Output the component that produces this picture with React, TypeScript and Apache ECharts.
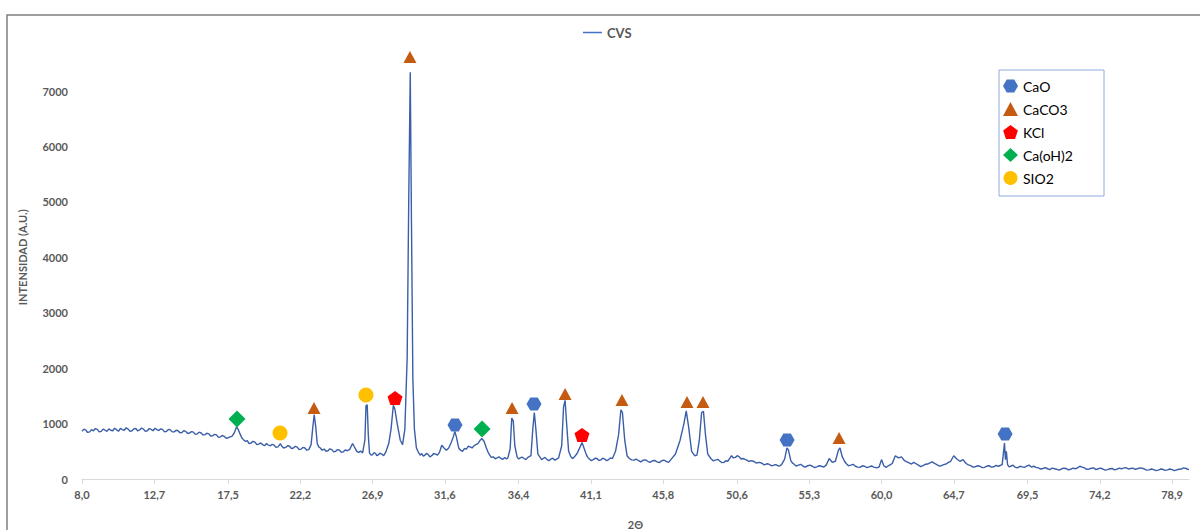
import React, { useEffect, useRef } from "react";
import * as echarts from "echarts";

// 2θ / intensity trace
const cvsTrace: [number, number][] = [
  [8.0, 860], [8.12, 900], [8.25, 880], [8.37, 840], [8.5, 850], [8.62, 890], [8.75, 870], [8.87, 910], [9.0, 895], [9.12, 850], [9.25, 860], [9.37, 900], [9.5, 880], [9.62, 860], [9.75, 905],
  [9.87, 880], [10.0, 870], [10.12, 915], [10.25, 890], [10.37, 860], [10.5, 915], [10.62, 890], [10.75, 880], [10.87, 925], [11.0, 900], [11.12, 860], [11.25, 870], [11.37, 905], [11.5, 910], [11.62, 870], [11.75, 885],
  [11.87, 920], [12.0, 900], [12.12, 860], [12.25, 870], [12.37, 910], [12.5, 895], [12.62, 870], [12.75, 915], [12.87, 890], [13.0, 875], [13.12, 905], [13.25, 890], [13.37, 850], [13.5, 860], [13.62, 895], [13.75, 885],
  [13.87, 850], [14.0, 850], [14.12, 880], [14.25, 870], [14.37, 835], [14.5, 840], [14.62, 870], [14.75, 860], [14.87, 820], [15.0, 830], [15.12, 855], [15.25, 845], [15.37, 805], [15.5, 815], [15.62, 845], [15.75, 830],
  [15.87, 795], [16.0, 800], [16.12, 825], [16.25, 815], [16.37, 775], [16.5, 780], [16.62, 805], [16.75, 795], [16.87, 750], [17.0, 760], [17.12, 785], [17.25, 770], [17.37, 735], [17.5, 740], [17.62, 760], [17.75, 770],
  [17.9, 830], [18.05, 940], [18.15, 900], [18.3, 800], [18.4, 740], [18.5, 710], [18.62, 680], [18.75, 690], [18.87, 640], [19.0, 650], [19.12, 680], [19.25, 665], [19.37, 620],
  [19.5, 630], [19.62, 650], [19.75, 620], [19.87, 600], [20.0, 640], [20.12, 610], [20.25, 600], [20.37, 625], [20.5, 610], [20.62, 570], [20.75, 580], [20.9, 640], [21.0, 590],
  [21.12, 560], [21.25, 570], [21.37, 600], [21.5, 590], [21.62, 550], [21.75, 560], [21.87, 590], [22.0, 575], [22.12, 530], [22.25, 540], [22.37, 570], [22.5, 560], [22.62, 520], [22.75, 530], [22.9, 620],
  [23.0, 900], [23.1, 1160], [23.2, 950], [23.3, 640], [23.4, 580], [23.5, 560], [23.62, 520], [23.75, 540], [23.87, 500], [24.0, 510], [24.12, 545], [24.25, 530], [24.37, 490],
  [24.5, 500], [24.62, 530], [24.75, 520], [24.87, 480], [25.0, 490], [25.12, 525], [25.25, 510], [25.4, 530], [25.6, 640], [25.75, 560], [25.87, 500], [26.0, 480], [26.12, 505],
  [26.25, 470], [26.4, 700], [26.47, 1320], [26.55, 1340], [26.62, 800], [26.7, 470], [26.8, 430], [26.9, 440], [27.0, 475], [27.1, 460], [27.17, 420],
  [27.25, 430], [27.37, 465], [27.5, 450], [27.62, 420], [27.75, 480], [27.95, 640], [28.1, 900], [28.25, 1330], [28.35, 1260], [28.5, 1000],
  [28.6, 850], [28.7, 700], [28.85, 620], [29.0, 900], [29.15, 2200], [29.25, 5000], [29.35, 7340], [29.43, 4600],
  [29.52, 1800], [29.62, 900], [29.75, 560], [29.9, 470], [30.0, 430], [30.1, 460], [30.2, 410], [30.3, 430], [30.4, 460], [30.5, 450], [30.62, 400], [30.75, 420],
  [30.87, 460], [31.0, 450], [31.12, 430], [31.25, 480], [31.4, 610], [31.55, 560], [31.7, 520], [31.85, 560], [32.0, 650], [32.15, 760],
  [32.25, 860], [32.35, 760], [32.5, 560], [32.62, 520], [32.75, 500], [32.87, 550], [33.0, 540], [33.12, 590], [33.25, 580], [33.37, 560], [33.5, 600], [33.62, 620], [33.75, 640],
  [33.9, 700], [34.0, 730], [34.15, 680], [34.3, 560], [34.4, 490], [34.5, 440], [34.62, 390], [34.75, 400], [34.87, 365], [35.0, 380], [35.12, 400], [35.25, 370],
  [35.37, 355], [35.5, 390], [35.6, 360], [35.7, 380], [35.85, 550], [35.95, 1100], [36.05, 1050], [36.15, 600], [36.3, 400], [36.4, 360], [36.5, 380],
  [36.62, 395], [36.75, 370], [36.87, 350], [37.0, 390], [37.2, 420], [37.32, 900], [37.42, 1200], [37.52, 900], [37.65, 450], [37.8, 390],
  [37.9, 350], [38.0, 370], [38.12, 390], [38.25, 350], [38.37, 330], [38.5, 360], [38.62, 375], [38.75, 340], [38.87, 360], [39.0, 380], [39.2, 600], [39.32, 1300], [39.42, 1420],
  [39.52, 1000], [39.65, 500], [39.8, 400], [39.9, 370], [40.0, 390], [40.2, 460], [40.4, 580], [40.52, 660], [40.65, 560],
  [40.8, 440], [40.9, 390], [41.0, 360], [41.12, 330], [41.25, 350], [41.37, 375], [41.5, 370], [41.62, 335], [41.75, 345], [41.87, 375], [42.0, 360], [42.12, 330], [42.25, 350], [42.37, 380], [42.5, 370],
  [42.7, 500], [42.9, 800], [43.05, 1250], [43.15, 1200], [43.3, 700], [43.45, 420], [43.6, 370], [43.75, 345], [43.9, 340], [44.05, 360],
  [44.2, 330], [44.35, 310], [44.5, 340], [44.65, 345], [44.8, 320], [44.95, 300], [45.1, 330], [45.25, 335], [45.4, 310], [45.55, 295], [45.7, 330], [45.85, 340], [46.0, 320], [46.15, 300], [46.3, 350],
  [46.6, 450], [46.9, 700], [47.15, 1000], [47.3, 1230], [47.45, 950], [47.65, 500], [47.85, 420], [48.0, 430],
  [48.15, 700], [48.3, 1200], [48.42, 1220], [48.55, 800], [48.7, 450], [48.9, 370], [49.05, 330], [49.2, 340], [49.35, 355], [49.5, 320], [49.62, 295],
  [49.75, 300], [49.87, 330], [50.0, 320], [50.25, 420], [50.37, 380], [50.5, 390], [50.62, 420], [50.75, 400], [50.87, 360], [51.0, 370], [51.12, 355], [51.25, 340], [51.37, 315], [51.5, 330],
  [51.62, 325], [51.75, 310], [51.87, 285], [52.0, 300], [52.12, 295], [52.25, 280], [52.37, 255], [52.5, 270], [52.62, 275], [52.75, 255], [52.87, 235], [53.0, 250], [53.12, 260], [53.25, 240], [53.37, 235], [53.5, 260],
  [53.7, 360], [53.85, 560], [53.95, 520], [54.1, 330], [54.2, 290], [54.3, 270], [54.45, 235], [54.6, 250], [54.75, 265], [54.9, 230], [55.05, 215], [55.2, 240],
  [55.35, 250], [55.5, 230], [55.65, 205], [55.8, 220], [55.95, 240], [56.1, 230], [56.25, 215], [56.4, 250], [56.6, 370], [56.8, 300], [57.0, 320], [57.2, 520],
  [57.3, 560], [57.45, 400], [57.6, 320], [57.7, 280], [57.85, 240], [58.0, 250], [58.15, 265], [58.3, 230], [58.45, 215], [58.6, 210], [58.75, 240], [58.9, 230], [59.05, 205], [59.2, 220],
  [59.35, 235], [59.5, 215], [59.7, 200], [59.85, 220], [60.0, 350], [60.15, 240], [60.3, 210], [60.4, 230], [60.55, 255], [60.7, 280], [60.9, 420], [61.1, 380],
  [61.3, 400], [61.5, 330], [61.65, 310], [61.8, 290], [61.95, 270], [62.1, 300], [62.25, 275], [62.4, 250], [62.55, 225], [62.7, 240], [62.85, 265], [63.0, 270], [63.15, 290], [63.3, 310],
  [63.45, 280], [63.6, 260], [63.75, 235], [63.9, 240], [64.05, 260], [64.2, 270], [64.35, 300], [64.5, 320], [64.7, 420], [64.9, 360], [65.1, 320], [65.3, 350],
  [65.5, 280], [65.65, 255], [65.8, 240], [65.95, 215], [66.1, 220], [66.25, 240], [66.4, 230], [66.55, 205], [66.7, 210], [66.85, 235], [67.0, 240], [67.15, 215], [67.3, 220], [67.45, 245], [67.6, 230],
  [67.85, 260], [68.0, 650], [68.06, 350], [68.12, 500], [68.2, 260], [68.3, 220], [68.4, 230], [68.55, 250], [68.7, 210], [68.85, 200], [69.0, 230],
  [69.15, 220], [69.3, 210], [69.45, 235], [69.6, 250], [69.75, 215], [69.9, 230], [70.05, 210], [70.2, 200], [70.35, 180], [70.5, 190], [70.65, 205], [70.8, 185], [70.95, 170], [71.1, 195], [71.25, 185], [71.4, 175],
  [71.55, 160], [71.7, 180], [71.85, 195], [72.0, 190], [72.15, 165], [72.3, 175], [72.45, 195], [72.6, 185], [72.75, 200], [72.9, 230], [73.05, 215], [73.2, 200], [73.35, 175], [73.5, 180], [73.65, 195], [73.8, 200],
  [73.95, 170], [74.1, 185], [74.25, 195], [74.4, 180], [74.55, 160], [74.7, 170], [74.85, 185], [75.0, 190], [75.15, 165], [75.3, 175], [75.45, 195], [75.6, 185], [75.75, 195], [75.9, 205], [76.05, 180], [76.2, 190],
  [76.35, 195], [76.5, 175], [76.65, 185], [76.8, 200], [76.95, 195], [77.1, 180], [77.25, 160], [77.4, 165], [77.55, 180], [77.7, 170], [77.85, 150], [78.0, 160], [78.15, 180], [78.3, 175], [78.45, 155], [78.6, 165],
  [78.75, 180], [78.9, 170], [79.05, 150], [79.2, 165], [79.35, 175], [79.5, 180], [79.65, 200], [79.8, 190], [80.0, 170],
];

// Phase markers [2θ, marker height]
const caoMarks: [number, number][] = [[32.26, 974], [37.4, 1353], [53.86, 704], [68.04, 812]];
const caco3Marks: [number, number][] = [
  [23.09, 1281], [29.33, 7613], [35.97, 1281], [39.42, 1533], [43.12, 1425],
  [47.35, 1389], [48.39, 1389], [57.24, 740],
];
const kclMarks: [number, number][] = [[28.36, 1461], [40.52, 794]];
const caoh2Marks: [number, number][] = [[18.08, 1082], [34.02, 902]];
const sio2Marks: [number, number][] = [[20.88, 830], [26.47, 1515]];

const xTickLabels = ["8,0", "12,7", "17,5", "22,2", "26,9", "31,6", "36,4", "41,1", "45,8", "50,6", "55,3", "60,0", "64,7", "69,5", "74,2", "78,9"];

const FONT = "Lato, 'Open Sans', sans-serif";
const GRAY = "#595959";

const hexagon = "path://M0,6 L3.5,0 L10.5,0 L14,6 L10.5,12 L3.5,12 Z";
const pentagon = "path://M10,0 L20,7.3 L16.2,19 L3.8,19 L0,7.3 Z";

export default function App() {
  const ref = useRef<HTMLDivElement>(null);
  useEffect(() => {
    if (!ref.current) return;
    const chart = echarts.init(ref.current, null, { renderer: "svg" });
    const tickValues = xTickLabels.map((s) => parseFloat(s.replace(",", ".")));
    const scatter = (name: string, data: [number, number][], symbol: string, size: number | number[], color: string) => ({
      name,
      type: "scatter",
      data,
      symbol,
      symbolSize: size,
      itemStyle: { color, opacity: 1 },
      z: 5,
    });
    chart.setOption({
      animation: false,
      backgroundColor: "#ffffff",
      graphic: [
        { type: "rect", shape: { x: 7, y: 15, width: 1300, height: 600 }, style: { fill: "none", stroke: "#7f7f7f", lineWidth: 1.5 }, silent: true },
        { type: "rect", shape: { x: 999, y: 70, width: 105, height: 126 }, style: { fill: "#fff", stroke: "#8faadc", lineWidth: 1 }, silent: true, z: 1 },
      ],
      legend: [
        {
          data: [{ name: "CVS", icon: "rect", itemStyle: { color: "#4472c4" } }],
          left: 583,
          top: 26,
          padding: 0,
          itemWidth: 19,
          itemHeight: 1.5,
          textStyle: { fontFamily: FONT, fontWeight: "bold", fontSize: 13, color: GRAY },
        },
        {
          data: ["CaO", "CaCO3", "KCl", "Ca(oH)2", "SIO2"],
          orient: "vertical",
          left: 999,
          top: 74,
          padding: [5, 5, 5, 4],
          itemWidth: 15,
          itemHeight: 14,
          itemGap: 9,
          z: 10,
          textStyle: { fontFamily: FONT, fontSize: 14, color: "#000" },
        },
      ],
      grid: { left: 82, right: 11, top: 35.6, bottom: 51, outerBoundsMode: "none" },
      xAxis: {
        type: "value",
        min: 8,
        max: 80,
        name: "2Θ",
        nameLocation: "middle",
        nameGap: 40,
        nameTextStyle: { fontFamily: FONT, fontWeight: "bold", fontSize: 11, color: GRAY },
        axisLine: { show: true, lineStyle: { color: "#d9d9d9", width: 1 } },
        axisTick: { show: true, length: 5, customValues: tickValues, lineStyle: { color: "#d9d9d9" } },
        axisLabel: {
          customValues: tickValues,
          margin: 10,
          formatter: (v: number) => v.toFixed(1).replace(".", ","),
          fontFamily: FONT,
          fontWeight: "bold",
          fontSize: 11,
          color: GRAY,
        },
        splitLine: { show: false },
      },
      yAxis: {
        type: "value",
        min: 0,
        max: 8000,
        interval: 1000,
        name: "INTENSIDAD (A.U.)",
        nameLocation: "middle",
        nameGap: 54,
        nameTextStyle: { fontFamily: FONT, fontWeight: "bold", fontSize: 11, color: GRAY },
        axisLine: { show: false },
        axisTick: { show: false },
        splitLine: { show: false },
        axisLabel: {
          showMaxLabel: false,
          margin: 14,
          formatter: (v: number) => String(v),
          fontFamily: FONT,
          fontWeight: "bold",
          fontSize: 11,
          color: GRAY,
        },
      },
      series: [
        {
          name: "CVS",
          type: "line",
          data: cvsTrace,
          symbol: "none",
          smooth: false,
          lineStyle: { color: "#3a5ea8", width: 1.4 },
          itemStyle: { color: "#4472c4" },
          z: 3,
        },
        scatter("CaO", caoMarks, hexagon, [15, 13], "#4472c4"),
        scatter("CaCO3", caco3Marks, "triangle", [13, 12], "#c55a11"),
        scatter("KCl", kclMarks, pentagon, [15, 14], "#ff0000"),
        scatter("Ca(oH)2", caoh2Marks, "diamond", [17, 17], "#00b050"),
        scatter("SIO2", sio2Marks, "circle", 15, "#ffc000"),
      ],
    });
    return () => chart.dispose();
  }, []);
  return <div ref={ref} style={{ position: "absolute", left: 0, top: 0, width: 1200, height: 530 }} />;
}
